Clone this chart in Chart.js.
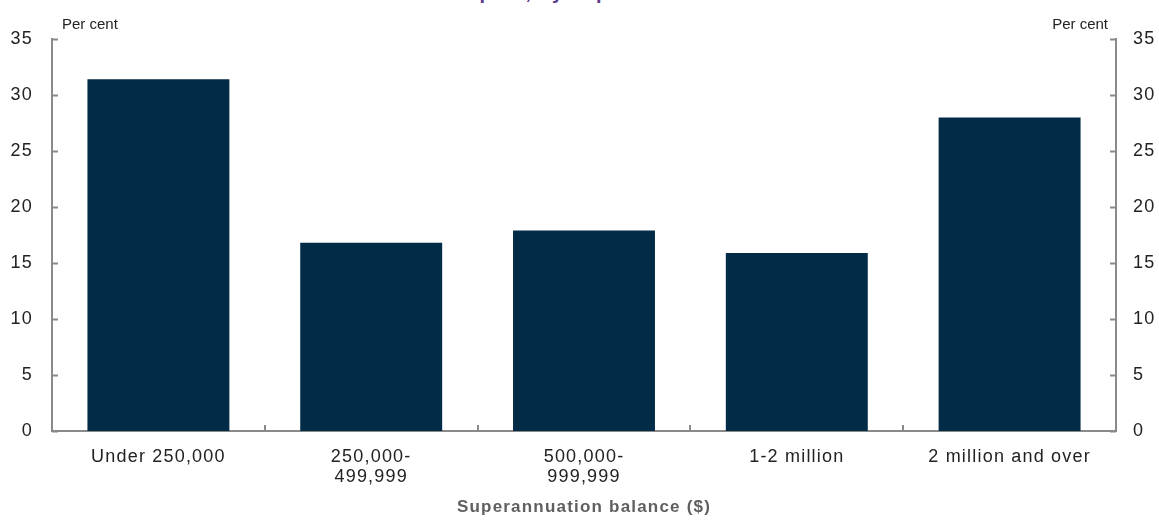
<!DOCTYPE html>
<html>
<head>
<meta charset="utf-8">
<script src="https://cdn.jsdelivr.net/npm/chart.js@4.4.1/dist/chart.umd.min.js"></script>
<style>
  html, body { margin: 0; padding: 0; background: #fff; overflow: hidden; }
  #wrap { position: relative; width: 1159px; height: 525px; }
  #titulo {
    position: absolute; left: 0; top: -19px; width: 1159px; text-align: center;
    font: bold 20px "Liberation Sans", Arial, sans-serif; color: #5b3b8c; white-space: nowrap;
    letter-spacing: 1px;
  }
  canvas { position: absolute; left: 0; top: 0; }
</style>
</head>
<body>
<div id="wrap">
  <div id="titulo">Unrealised capital, by superannuation balance</div>
  <canvas id="grafica" width="1159" height="525"></canvas>
</div>
<script>
// Datos
const categorias = [
    'Under 250,000',
    ['250,000-', '499,999'],
    ['500,000-', '999,999'],
    '1-2 million',
    '2 million and over'
];
const valores = [31.4, 16.8, 17.9, 15.9, 28.0];
const ejeMin = 0;
const ejeMax = 35;
const ejePaso = 5;

const fuente = '"Liberation Sans", Arial, sans-serif';
const colorEje = '#8a8a8a';

// Espaciado de letras para imitar el texto algo ensanchado del original
const espaciadoPlugin = {
    id: 'espaciado',
    beforeLayout(chart) { chart.ctx.letterSpacing = '1.2px'; },
    beforeDraw(chart) { chart.ctx.letterSpacing = '1.2px'; }
};

// Marcas hacia dentro en los ejes y rótulos "Per cent"
const marcasPlugin = {
    id: 'marcas',
    afterDraw(chart) {
        const ctx = chart.ctx;
        const y = chart.scales.y;
        const x = chart.scales.x;
        const area = chart.chartArea;
        ctx.save();
        ctx.strokeStyle = colorEje;
        ctx.lineWidth = 2;
        y.ticks.forEach(t => {
            const py = Math.round(y.getPixelForValue(t.value)) + 0.5;
            ctx.beginPath();
            ctx.moveTo(area.left, py);
            ctx.lineTo(area.left + 6, py);
            ctx.moveTo(area.right, py);
            ctx.lineTo(area.right - 6, py);
            ctx.stroke();
        });
        for (let i = 1; i < categorias.length; i++) {
            const px = Math.round((x.getPixelForValue(i - 1) + x.getPixelForValue(i)) / 2);
            ctx.beginPath();
            ctx.moveTo(px, area.bottom);
            ctx.lineTo(px, area.bottom - 6);
            ctx.stroke();
        }
        ctx.letterSpacing = '0px';
        ctx.fillStyle = '#222';
        ctx.font = '15px ' + fuente;
        ctx.textBaseline = 'middle';
        ctx.textAlign = 'left';
        ctx.fillText('Per cent', area.left + 10, 25);
        ctx.textAlign = 'right';
        ctx.fillText('Per cent', area.right - 8, 25);
        ctx.restore();
    }
};

new Chart(document.getElementById('grafica'), {
    type: 'bar',
    data: {
        labels: categorias,
        datasets: [{
            data: valores,
            backgroundColor: '#022b48',
            borderWidth: 0,
            barPercentage: 0.667,
            categoryPercentage: 1
        }]
    },
    options: {
        responsive: false,
        animation: false,
        layout: { padding: { top: 39, left: 0, right: 0, bottom: 0 } },
        plugins: {
            legend: { display: false },
            tooltip: { enabled: false }
        },
        scales: {
            x: {
                grid: { display: false, drawTicks: false },
                border: { display: true, color: colorEje, width: 2 },
                ticks: {
                    color: '#222',
                    font: { family: fuente, size: 18, lineHeight: 1.1 },
                    padding: 16,
                    maxRotation: 0,
                    autoSkip: false
                },
                title: {
                    display: true,
                    text: 'Superannuation balance ($)',
                    color: '#5f5f5f',
                    font: { family: fuente, size: 17, weight: 'bold' },
                    padding: { top: 0, bottom: 7 }
                },
                afterFit: s => { s.height = 94; }
            },
            y: {
                position: 'left',
                min: ejeMin,
                max: ejeMax,
                grid: { display: false, drawTicks: false },
                border: { display: true, color: colorEje, width: 2 },
                ticks: {
                    stepSize: ejePaso,
                    color: '#222',
                    font: { family: fuente, size: 18 },
                    padding: 19
                },
                afterFit: s => { s.width = 52; }
            },
            y2: {
                position: 'right',
                min: ejeMin,
                max: ejeMax,
                grid: { display: false, drawTicks: false },
                border: { display: true, color: colorEje, width: 2 },
                ticks: {
                    stepSize: ejePaso,
                    color: '#222',
                    font: { family: fuente, size: 18 },
                    padding: 17
                },
                afterFit: s => { s.width = 43; }
            }
        }
    },
    plugins: [espaciadoPlugin, marcasPlugin]
});
</script>
</body>
</html>
